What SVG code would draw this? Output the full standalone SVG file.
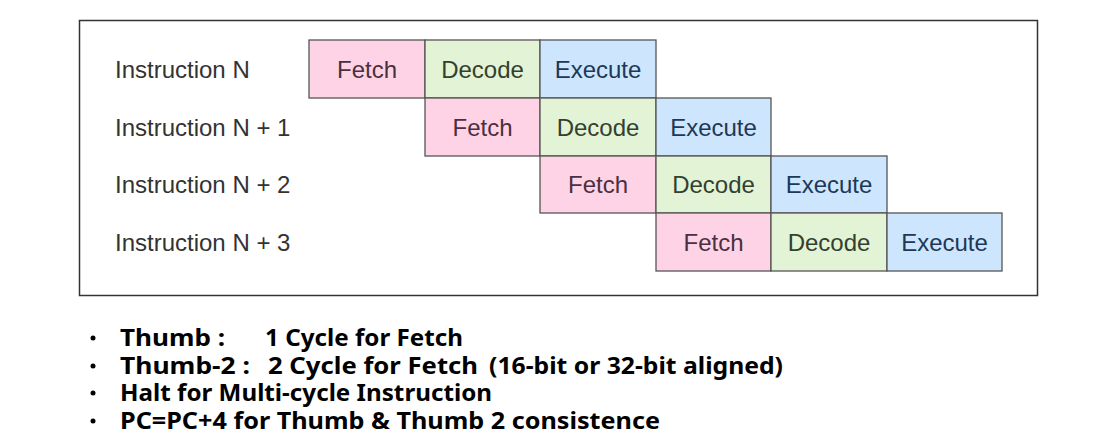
<svg xmlns="http://www.w3.org/2000/svg" width="1107" height="447" viewBox="0 0 1107 447">
<style>
.lbl{font-family:"Liberation Sans",Arial,sans-serif;font-size:24px;fill:#333}
.ct{font-family:"Liberation Sans",Arial,sans-serif;font-size:24px;text-anchor:middle}
.f{fill:#ffd3e6;stroke:#555;stroke-width:1.3}
.d{fill:#e2f3d6;stroke:#555;stroke-width:1.3}
.e{fill:#cde6fd;stroke:#555;stroke-width:1.3}
.ft{fill:#4a3040}
.dt{fill:#334030}
.et{fill:#203858}
.b{font-family:"Noto Sans","Open Sans",sans-serif;font-weight:bold;font-size:24px;fill:#000}
</style>
<rect x="0" y="0" width="1107" height="447" fill="#fff"/>
<rect x="79.5" y="20.5" width="958" height="275" fill="#fff" stroke="#333" stroke-width="1.5"/>
<text class="lbl" x="115" y="78">Instruction N</text>
<text class="lbl" x="115" y="136">Instruction N + 1</text>
<text class="lbl" x="115" y="193">Instruction N + 2</text>
<text class="lbl" x="115" y="251">Instruction N + 3</text>
<g id="row0">
<rect class="f" x="309" y="40" width="116" height="58"/><text class="ct ft" x="367" y="78">Fetch</text>
<rect class="d" x="425" y="40" width="115" height="58"/><text class="ct dt" x="482.5" y="78">Decode</text>
<rect class="e" x="540" y="40" width="116" height="58"/><text class="ct et" x="598" y="78">Execute</text>
</g>
<g id="row1">
<rect class="f" x="425" y="98" width="115" height="58"/><text class="ct ft" x="482.5" y="136">Fetch</text>
<rect class="d" x="540" y="98" width="116" height="58"/><text class="ct dt" x="598" y="136">Decode</text>
<rect class="e" x="656" y="98" width="115" height="58"/><text class="ct et" x="713.5" y="136">Execute</text>
</g>
<g id="row2">
<rect class="f" x="540" y="156" width="116" height="57"/><text class="ct ft" x="598" y="193">Fetch</text>
<rect class="d" x="656" y="156" width="115" height="57"/><text class="ct dt" x="713.5" y="193">Decode</text>
<rect class="e" x="771" y="156" width="116" height="57"/><text class="ct et" x="829" y="193">Execute</text>
</g>
<g id="row3">
<rect class="f" x="656" y="213" width="115" height="58"/><text class="ct ft" x="713.5" y="251">Fetch</text>
<rect class="d" x="771" y="213" width="116" height="58"/><text class="ct dt" x="829" y="251">Decode</text>
<rect class="e" x="887" y="213" width="115" height="58"/><text class="ct et" x="944.5" y="251">Execute</text>
</g>
<g id="bullets">
<circle cx="93" cy="338" r="2.5"/><circle cx="93" cy="366" r="2.5"/><circle cx="93" cy="393" r="2.5"/><circle cx="93" cy="421" r="2.5"/>
<text class="b" x="120" y="346" textLength="105" lengthAdjust="spacingAndGlyphs">Thumb :</text>
<text class="b" x="265" y="346" textLength="198" lengthAdjust="spacingAndGlyphs">1 Cycle for Fetch</text>
<text class="b" x="120" y="374" textLength="130" lengthAdjust="spacingAndGlyphs">Thumb-2 :</text>
<text class="b" x="268" y="374" textLength="210" lengthAdjust="spacingAndGlyphs">2 Cycle for Fetch</text>
<text class="b" x="489" y="374" textLength="294" lengthAdjust="spacingAndGlyphs">(16-bit or 32-bit aligned)</text>
<text class="b" x="120" y="401" textLength="372" lengthAdjust="spacingAndGlyphs">Halt for Multi-cycle Instruction</text>
<text class="b" x="120" y="429" textLength="540" lengthAdjust="spacingAndGlyphs">PC=PC+4 for Thumb &amp; Thumb 2 consistence</text>
</g>
</svg>
